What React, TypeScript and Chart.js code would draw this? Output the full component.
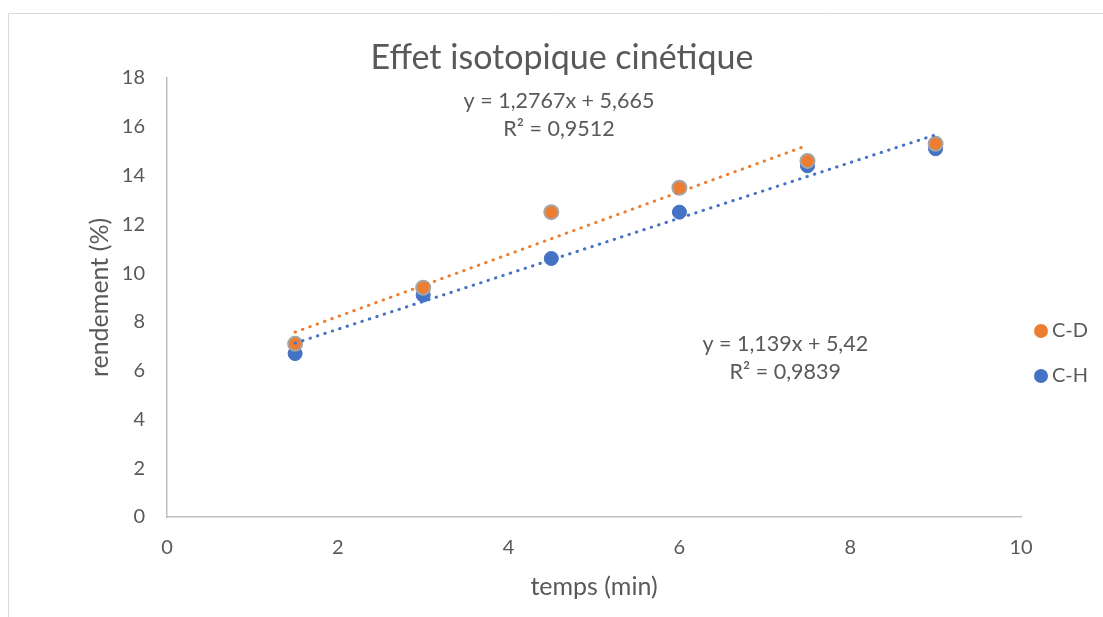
import React, { useEffect, useRef } from "react";
import { Chart, registerables } from "chart.js";

Chart.register(...registerables);

const CHART_TITLE = "Effet isotopique cinétique";
const X_TITLE = "temps (min)";
const Y_TITLE = "rendement (%)";

const TIME_MIN = [1.5, 3, 4.5, 6, 7.5, 9];
const CD_VALUES = [7.1, 9.4, 12.5, 13.5, 14.6, 15.3];
const CH_VALUES = [6.7, 9.1, 10.6, 12.5, 14.4, 15.1];

const SERIES_LABELS = ["C-D", "C-H"];

// Trendlines as shown on the chart (Excel linear fits)
const CD_FIT = [1.2767, 5.665]; // slope, intercept
const CH_FIT = [1.139, 5.42];
const CD_FIT_RANGE = [1.5, 7.5];
const CH_FIT_RANGE = [1.5, 9];

const CD_EQ_TEXT = ["y = 1,2767x + 5,665", "R² = 0,9512"];
const CH_EQ_TEXT = ["y = 1,139x + 5,42", "R² = 0,9839"];
// label anchors in data units (x, y) of first line
const CD_EQ_ANCHOR = [4.59, 17.05];
const CH_EQ_ANCHOR = [7.24, 7.09];

const X_TICKS_STEP = 2;
const Y_TICKS_STEP = 2;

const ORANGE = "#ED7D31";
const BLUE = "#4472C4";
const TEXT = "#595959";
const FONT = "Lato, 'Open Sans', sans-serif";

export default function App() {
  const ref = useRef<HTMLCanvasElement | null>(null);

  useEffect(() => {
    const canvas = ref.current;
    if (!canvas) return;

    const decor = {
      id: "decor",
      beforeDraw(chart: any) {
        const { ctx, width, height } = chart;
        ctx.save();
        ctx.fillStyle = "#ffffff";
        ctx.fillRect(0, 0, width, height);
        ctx.strokeStyle = "#D9D9D9";
        ctx.lineWidth = 1;
        ctx.beginPath();
        ctx.moveTo(8.5, height);
        ctx.lineTo(8.5, 13.5);
        ctx.lineTo(width, 13.5);
        ctx.stroke();
        ctx.restore();
      },
      afterDraw(chart: any) {
        const { ctx } = chart;
        const xs = chart.scales.x;
        const ys = chart.scales.y;
        ctx.save();
        // title
        ctx.fillStyle = TEXT;
        ctx.textAlign = "center";
        ctx.textBaseline = "middle";
        ctx.font = `34px ${FONT}`;
        ctx.fillText(CHART_TITLE, 562, 58);

        // equations
        ctx.font = `21.5px ${FONT}`;
        const drawEq = (lines: string[], anchor: number[]) => {
          const px = xs.getPixelForValue(anchor[0]);
          const py = ys.getPixelForValue(anchor[1]);
          lines.forEach((l, i) => ctx.fillText(l, px, py + i * 28));
        };
        drawEq(CD_EQ_TEXT, CD_EQ_ANCHOR);
        drawEq(CH_EQ_TEXT, CH_EQ_ANCHOR);

        // legend
        ctx.font = `20px ${FONT}`;
        const colors = [ORANGE, BLUE];
        SERIES_LABELS.forEach((lab, i) => {
          const cy = 331 + i * 45;
          ctx.beginPath();
          ctx.arc(1041, cy, 7, 0, Math.PI * 2);
          ctx.fillStyle = colors[i];
          ctx.fill();
          ctx.fillStyle = TEXT;
          ctx.textAlign = "left";
          ctx.fillText(lab, 1052, cy);
        });
        ctx.restore();
      },
    };

    const trend = (fit: number[], range: number[]) =>
      range.map((x) => ({ x, y: fit[0] * x + fit[1] }));

    const chart = new Chart(canvas, {
      type: "scatter",
      data: {
        datasets: [
          {
            type: "line",
            label: "trend C-D",
            data: trend(CD_FIT, CD_FIT_RANGE),
            borderColor: ORANGE,
            borderWidth: 3,
            borderDash: [0.5, 7.3],
            borderCapStyle: "round",
            pointRadius: 0,
            fill: false,
            order: 0,
          },
          {
            type: "line",
            label: "trend C-H",
            data: trend(CH_FIT, CH_FIT_RANGE),
            borderColor: BLUE,
            borderWidth: 3,
            borderDash: [0.5, 7.3],
            borderCapStyle: "round",
            pointRadius: 0,
            fill: false,
            order: 1,
          },
          {
            label: SERIES_LABELS[0],
            data: TIME_MIN.map((x, i) => ({ x, y: CD_VALUES[i] })),
            backgroundColor: ORANGE,
            borderColor: "#A5A5A5",
            borderWidth: 2,
            pointRadius: 7,
            order: 2,
          },
          {
            label: SERIES_LABELS[1],
            data: TIME_MIN.map((x, i) => ({ x, y: CH_VALUES[i] })),
            backgroundColor: BLUE,
            borderColor: BLUE,
            borderWidth: 1,
            pointRadius: 7,
            order: 3,
          },
        ],
      } as any,
      options: {
        responsive: false,
        animation: false,
        layout: { padding: { left: 0, top: 78, right: 82, bottom: 0 } },
        plugins: {
          legend: { display: false },
          title: { display: false },
          tooltip: { enabled: false },
        },
        scales: {
          x: {
            type: "linear",
            min: 0,
            max: 10,
            ticks: { stepSize: X_TICKS_STEP, padding: 19, color: TEXT, font: { size: 20, family: FONT } },
            grid: { color: "rgba(0,0,0,0)", drawTicks: false },
            border: { display: true, color: "#BFBFBF", width: 1.5 },
            title: {
              display: true,
              text: X_TITLE,
              color: TEXT,
              font: { size: 25, family: FONT },
              padding: { top: 0, bottom: 15 },
            },
            afterFit: (s: any) => {
              s.height = 100;
            },
          },
          y: {
            type: "linear",
            min: 0,
            max: 18,
            ticks: { stepSize: Y_TICKS_STEP, padding: 22, color: TEXT, font: { size: 20, family: FONT } },
            grid: { color: "rgba(0,0,0,0)", drawTicks: false },
            border: { display: true, color: "#BFBFBF", width: 1.5 },
            title: {
              display: true,
              text: Y_TITLE,
              color: TEXT,
              font: { size: 25, family: FONT },
              padding: { top: 85, bottom: 0 },
            },
            afterFit: (s: any) => {
              s.width = 167;
            },
          },
        },
      } as any,
      plugins: [decor],
    });

    return () => chart.destroy();
  }, []);

  return (
    <div style={{ position: "fixed", left: 0, top: 0, width: 1103, height: 617 }}>
      <canvas ref={ref} width={1103} height={617} style={{ display: "block" }} />
    </div>
  );
}
